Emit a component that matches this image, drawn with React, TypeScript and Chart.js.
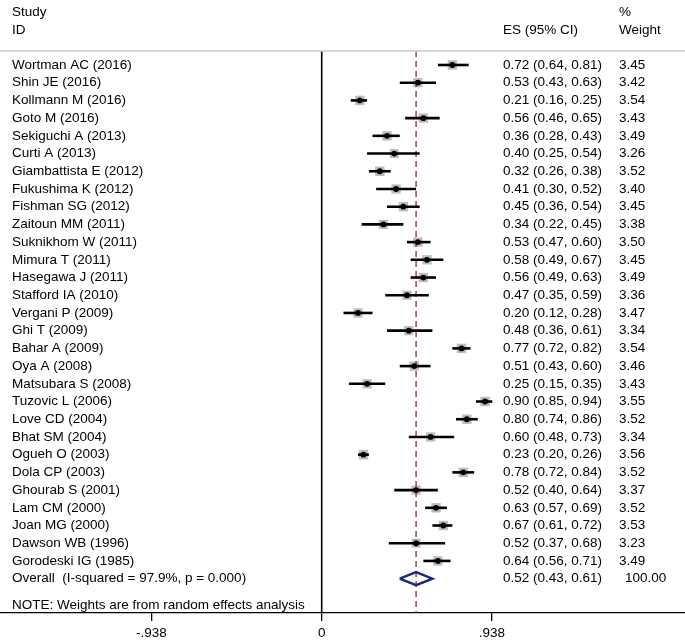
import React, { useEffect, useRef } from 'react';
import { Chart, registerables } from 'chart.js';
Chart.register(...registerables);

const studies = [
  'Wortman AC (2016)', 'Shin JE (2016)', 'Kollmann M (2016)', 'Goto M (2016)',
  'Sekiguchi A (2013)', 'Curti A (2013)', 'Giambattista E (2012)', 'Fukushima K (2012)',
  'Fishman SG (2012)', 'Zaitoun MM (2011)', 'Suknikhom W (2011)', 'Mimura T (2011)',
  'Hasegawa J (2011)', 'Stafford IA (2010)', 'Vergani P (2009)', 'Ghi T (2009)',
  'Bahar A (2009)', 'Oya A (2008)', 'Matsubara S (2008)', 'Tuzovic L (2006)',
  'Love CD (2004)', 'Bhat SM (2004)', 'Ogueh O (2003)', 'Dola CP (2003)',
  'Ghourab S (2001)', 'Lam CM (2000)', 'Joan MG (2000)', 'Dawson WB (1996)',
  'Gorodeski IG (1985)',
];
const es = [0.72, 0.53, 0.21, 0.56, 0.36, 0.40, 0.32, 0.41, 0.45, 0.34, 0.53, 0.58, 0.56, 0.47, 0.20, 0.48, 0.77, 0.51, 0.25, 0.90, 0.80, 0.60, 0.23, 0.78, 0.52, 0.63, 0.67, 0.52, 0.64];
const ciLow = [0.64, 0.43, 0.16, 0.46, 0.28, 0.25, 0.26, 0.30, 0.36, 0.22, 0.47, 0.49, 0.49, 0.35, 0.12, 0.36, 0.72, 0.43, 0.15, 0.85, 0.74, 0.48, 0.20, 0.72, 0.40, 0.57, 0.61, 0.37, 0.56];
const ciHigh = [0.81, 0.63, 0.25, 0.65, 0.43, 0.54, 0.38, 0.52, 0.54, 0.45, 0.60, 0.67, 0.63, 0.59, 0.28, 0.61, 0.82, 0.60, 0.35, 0.94, 0.86, 0.73, 0.26, 0.84, 0.64, 0.69, 0.72, 0.68, 0.71];
const weights = [3.45, 3.42, 3.54, 3.43, 3.49, 3.26, 3.52, 3.40, 3.45, 3.38, 3.50, 3.45, 3.49, 3.36, 3.47, 3.34, 3.54, 3.46, 3.43, 3.55, 3.52, 3.34, 3.56, 3.52, 3.37, 3.52, 3.53, 3.23, 3.49];

const overallLabel = 'Overall  (I-squared = 97.9%, p = 0.000)';
const overallES = 0.52;
const overallLow = 0.43;
const overallHigh = 0.61;
const overallWeight = '100.00';
const noteText = 'NOTE: Weights are from random effects analysis';

const tickValues = [-0.938, 0, 0.938];
const tickLabels = ['-.938', '0', '.938'];

const FAMILY = '"Liberation Sans", Arial, sans-serif';
const FONT = `13.5px ${FAMILY}`;
const Y_MIN = -0.79;
const Y_MAX = 30.94;
const X_MIN = -1.7725;
const X_MAX = 2.0017;

const fmt = (v: number) => v.toFixed(2);

export default function App() {
  const ref = useRef<HTMLCanvasElement | null>(null);

  useEffect(() => {
    if (!ref.current) return;
    const n = studies.length;
    const overallRow = n;
    const noteRow = n + 1.5;

    const ciSets = studies.map((_, i) => ({
      type: 'line' as const,
      data: [{ x: ciLow[i], y: i }, { x: ciHigh[i], y: i }],
      borderColor: '#000',
      borderWidth: 2.6,
      pointRadius: 0,
      fill: false,
      order: 3,
    }));

    const textPlugin = {
      id: 'forestText',
      afterDatasetsDraw(chart: any) {
        const ctx = chart.ctx;
        const ys = chart.scales.y;
        const area = chart.chartArea;
        ctx.save();
        ctx.strokeStyle = '#c8c8c8';
        ctx.lineWidth = 1.5;
        ctx.beginPath();
        ctx.moveTo(0, area.top);
        ctx.lineTo(chart.width, area.top);
        ctx.stroke();

        ctx.fillStyle = '#000';
        ctx.font = FONT;
        ctx.textBaseline = 'middle';
        ctx.textAlign = 'left';
        ctx.fillText('Study', 12, 12);
        ctx.fillText('ID', 12, 30);
        ctx.fillText('ES (95% CI)', 503, 30);
        ctx.fillText('%', 619, 12);
        ctx.fillText('Weight', 619, 30);

        studies.forEach((s, i) => {
          const y = ys.getPixelForValue(i);
          ctx.fillText(s, 12, y);
          ctx.fillText(`${fmt(es[i])} (${fmt(ciLow[i])}, ${fmt(ciHigh[i])})`, 503, y);
          ctx.fillText(fmt(weights[i]), 619, y);
        });
        const yo = ys.getPixelForValue(overallRow);
        ctx.fillText(overallLabel, 12, yo);
        ctx.fillText(`${fmt(overallES)} (${fmt(overallLow)}, ${fmt(overallHigh)})`, 503, yo);
        ctx.fillText(overallWeight, 625, yo);
        ctx.fillText(noteText, 12, ys.getPixelForValue(noteRow));
        ctx.restore();
      },
    };

    const chart = new Chart(ref.current, {
      type: 'scatter',
      data: {
        datasets: [
          {
            type: 'line',
            data: [{ x: 0, y: Y_MIN }, { x: 0, y: Y_MAX }],
            borderColor: '#000',
            borderWidth: 1.6,
            pointRadius: 0,
            fill: false,
            order: 5,
          },
          {
            type: 'line',
            data: [{ x: overallES, y: Y_MIN }, { x: overallES, y: Y_MAX }],
            borderColor: '#8c2a38',
            borderWidth: 1.3,
            borderDash: [6, 4],
            pointRadius: 0,
            fill: false,
            order: 4,
          },
          {
            type: 'scatter',
            data: studies.map((_, i) => ({ x: es[i], y: i })),
            pointStyle: 'rect',
            pointRadius: weights.map((w) => 6.6 * Math.sqrt(w / 3.45)),
            backgroundColor: '#bdbdbd',
            borderWidth: 0,
            order: 6,
          },
          ...ciSets,
          {
            type: 'scatter',
            data: studies.map((_, i) => ({ x: es[i], y: i })),
            pointStyle: 'circle',
            pointRadius: 2.9,
            backgroundColor: '#000',
            borderWidth: 0,
            order: 1,
          },
          {
            type: 'line',
            data: [
              { x: overallLow, y: overallRow },
              { x: overallES, y: overallRow - 0.37 },
              { x: overallHigh, y: overallRow },
              { x: overallES, y: overallRow + 0.37 },
              { x: overallLow, y: overallRow },
            ],
            borderColor: '#1c2580',
            borderWidth: 2.4,
            pointRadius: 0,
            fill: false,
            tension: 0,
            order: 0,
          },
        ] as any,
      },
      options: {
        responsive: false,
        animation: false,
        events: [],
        layout: { autoPadding: false, padding: { top: 51, left: 0, right: 0, bottom: 0 } },
        plugins: { legend: { display: false }, tooltip: { enabled: false } },
        scales: {
          x: {
            type: 'linear',
            min: X_MIN,
            max: X_MAX,
            afterBuildTicks: (axis: any) => {
              axis.ticks = tickValues.map((v) => ({ value: v }));
            },
            afterFit: (scale: any) => {
              scale.height = 29;
            },
            ticks: {
              callback: (_v: any, idx: number) => tickLabels[idx],
              autoSkip: false,
              maxRotation: 0,
              color: '#000',
              font: { family: FAMILY, size: 13.5 },
              padding: 4,
            },
            grid: {
              display: true,
              drawOnChartArea: false,
              drawTicks: true,
              tickLength: 8,
              color: '#000',
              lineWidth: 1.3,
            },
            border: { display: true, color: '#000', width: 1.3 },
          },
          y: {
            type: 'linear',
            reverse: true,
            min: Y_MIN,
            max: Y_MAX,
            display: false,
          },
        },
      },
      plugins: [textPlugin],
    } as any);
    return () => chart.destroy();
  }, []);

  return (
    <div style={{ position: 'absolute', left: 0, top: 0, width: 685, height: 642, background: '#fff' }}>
      <canvas ref={ref} width={685} height={642} style={{ display: 'block' }} />
    </div>
  );
}
